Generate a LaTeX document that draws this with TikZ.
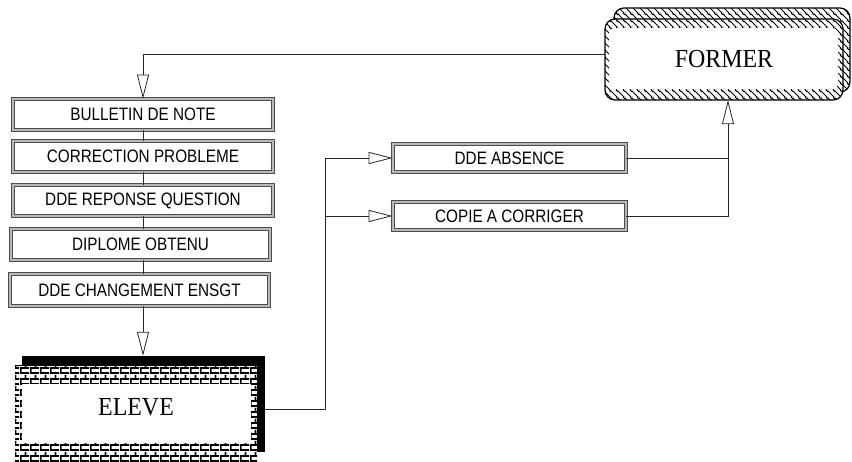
\documentclass[tikz,border=0pt]{standalone}
\usepackage{fontspec}
\setmainfont{Liberation Serif}
\newfontfamily\boxfont[FakeStretch=0.85]{Liberation Sans}
\newfontfamily\bigfont[FakeStretch=0.92]{Liberation Serif}
\usetikzlibrary{arrows.meta,patterns.meta}
\tikzdeclarepattern{name=hatchln, tile size={(6.5pt,6.5pt)}, bounding box={(0pt,0pt) and (6.5pt,6.5pt)},
  code={\draw[line width=1pt] (0pt,6.5pt)--(6.5pt,0pt) (-1pt,1pt)--(1pt,-1pt) (5.5pt,7.5pt)--(7.5pt,5.5pt);}}
\tikzdeclarepattern{name=brickx, tile size={(10pt,11pt)}, bounding box={(0pt,0pt) and (10pt,11pt)},
  code={\draw[line width=1.8pt] (0pt,1pt)--(10pt,1pt) (0pt,6.5pt)--(10pt,6.5pt) (1pt,1pt)--(1pt,6.5pt) (6pt,6.5pt)--(6pt,11pt) (6pt,0pt)--(6pt,1pt);}}
\tikzset{
  lbox/.style={draw=black!70, line width=0.7pt, double=gray!55, double distance=2.8pt, fill=white,
    font=\boxfont\fontsize{18}{20}\selectfont, inner sep=0pt},
  conn/.style={draw=black!85, line width=0.8pt},
  tri/.style={conn, -{Triangle[open, length=24pt, width=12pt, line width=0.8pt]}},
  big/.style={font=\bigfont\fontsize{26}{30}\selectfont}
}
\begin{document}
\begin{tikzpicture}[x=1pt, y=-1pt]
\useasboundingbox (0,0) rectangle (852,461);
% FORMER
\draw[pattern=hatchln, line width=1.2pt, rounded corners=10pt] (614,8) rectangle (850,92);
\fill[white, rounded corners=10pt] (605,19) rectangle (843,100);
\draw[pattern=hatchln, line width=1.2pt, rounded corners=10pt] (605,19) rectangle (843,100);
\fill[white, rounded corners=6pt] (609,28) rectangle (838,89);
\node[big, minimum width=238pt, minimum height=81pt, inner sep=0pt] (former) at (724,59.5) {FORMER};
% left boxes
\node[lbox, minimum width=260pt, minimum height=31pt] (b1) at (143,114.5) {BULLETIN DE NOTE};
\node[lbox, minimum width=260pt, minimum height=31pt] (b2) at (143,156.5) {CORRECTION PROBLEME};
\node[lbox, minimum width=260pt, minimum height=31pt] (b3) at (143,200.5) {DDE REPONSE QUESTION};
\node[lbox, minimum width=259pt, minimum height=31pt] (b4) at (140.5,244.5) {DIPLOME OBTENU};
\node[lbox, minimum width=259pt, minimum height=32pt] (b5) at (139.5,290) {DDE CHANGEMENT ENSGT};
% right boxes
\node[lbox, minimum width=233pt, minimum height=28pt] (abs) at (509.5,158) {DDE ABSENCE};
\node[lbox, minimum width=233pt, minimum height=28pt] (cop) at (509.5,216) {COPIE A CORRIGER};
% ELEVE
\node[fill=black, minimum width=243pt, minimum height=96pt, inner sep=0pt] (eleve) at (143.5,404) {};
\fill[white] (15,365) rectangle (257,461);
\fill[pattern=brickx] (15,365) rectangle (257,461);
\draw[line width=1pt] (15,365) -- (257,365);
\fill[white] (22,384) rectangle (251,443);
\node[big] (elevetext) at (136,407) {ELEVE};
% connectors
\coordinate (sp) at (325,0);
\coordinate (rt) at (728,0);
\draw[tri] ([yshift=5.5pt]former.west) -| (b1.north);
\draw[conn] (b1.south) -- (b2.north);
\draw[conn] (b2.south) -- (b3.north);
\draw[conn] (b3.south) -- (b3.south |- b4.north);
\draw[conn] (b3.south |- b4.south) -- (b3.south |- b5.north);
\draw[tri] (b3.south |- b5.south) -- (b3.south |- eleve.north);
\draw[tri] ([yshift=-5pt]eleve.east) -| (sp |- abs.west) -- (abs.west);
\draw[tri] (sp |- cop.west) -- (cop.west);
\draw[conn] (abs.east) -- (abs.east -| rt);
\draw[tri] (cop.east) -| (rt |- former.south);
\end{tikzpicture}
\end{document}
